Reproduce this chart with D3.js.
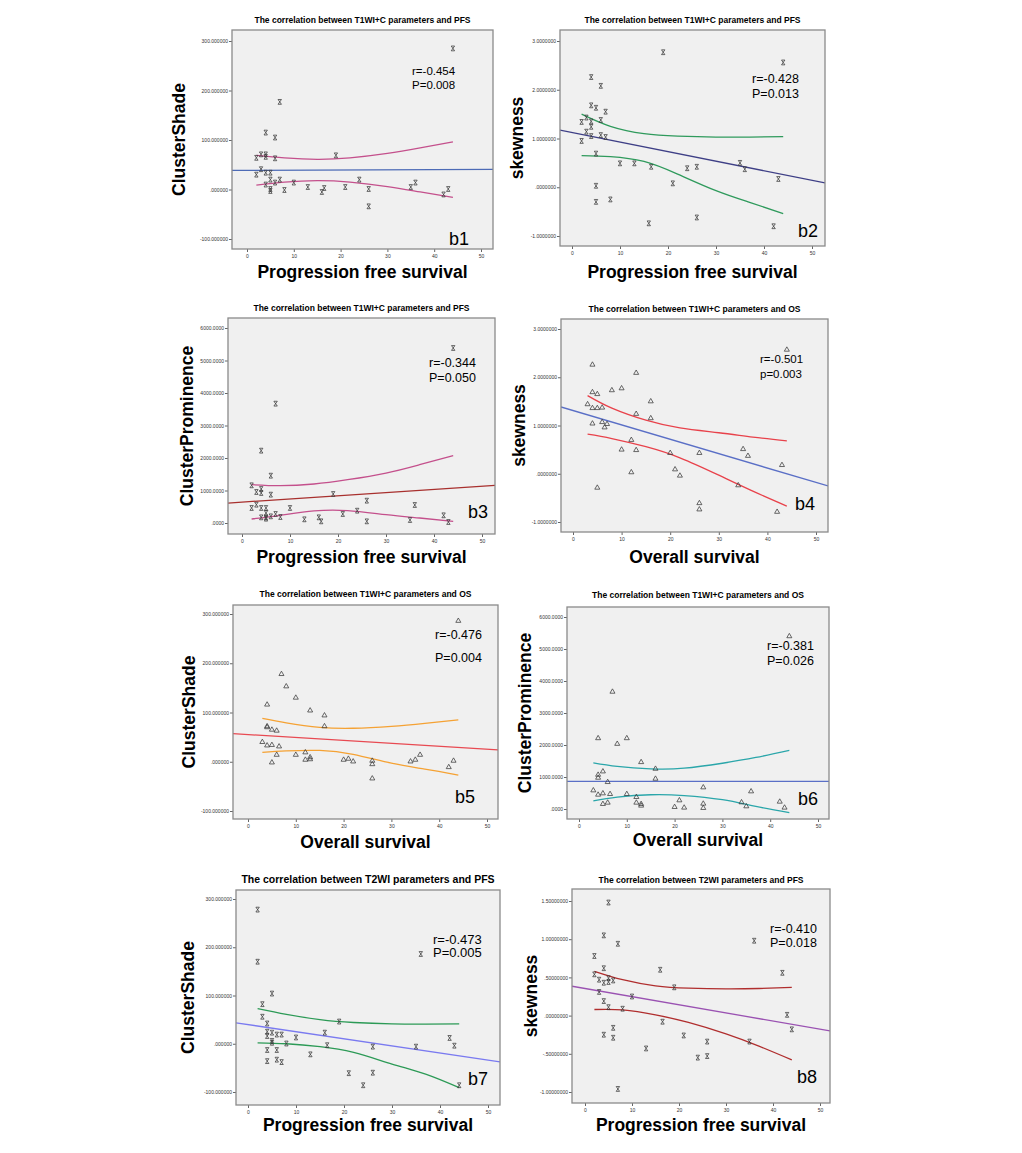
<!DOCTYPE html>
<html>
<head>
<meta charset="utf-8">
<script src="https://cdn.jsdelivr.net/npm/d3@7"></script>
<style>
  body { margin: 0; background: #fff; }
  text { font-family: Arial, "Liberation Sans", sans-serif; }
</style>
</head>
<body>
<svg id="chart"></svg>
<script>
// values
var pfsX = [2,2,3,3,4,4,4,4,4,5,5,5,5,6,6,6,7,7,8,10,13,16,16.5,19,21,24,26,26,35,36,42,43,44];
var b2X  = [2,2,3,3,4,4,4,4,4,5,5,5,5,6,6,6,7,7,8,10,13,16,16.5,19,21,24,26,26,35,36,43,42,44];
var osX  = [3,4,4,4,4,5,5,5,6,6,6.5,7,8,10,10,12,12,13,13,13,16,16,20,21,22,26,26,26,34,35,36,42,43,44];
var b4X  = [3,4,4,4,4,5,5,5,6,6,6.5,7,8,10,10,12,12,13,13,13,16,16,20,21,22,26,26,26,34,35,36,43,42,44];

var b1Y = [64,30,41,71,71,66,115,34,10,34,20,1,-3,105,63,14,177,20,-1,14,5,-5,3,69,5,20,1,-34,5,14,-10,1,285];
var b2Y = [1.34,0.95,1.43,1.14,2.26,1.68,1.35,1.24,1.05,1.63,0.69,0.03,-0.30,2.08,1.38,1.07,1.55,1.03,-0.25,0.49,0.49,-0.74,0.42,2.77,0.08,0.39,0.42,-0.62,0.50,0.37,0.17,-0.80,2.56];
var b3Y = [462,1159,564,954,2226,1046,923,462,174,462,308,174,133,1456,872,205,3672,277,185,462,113,174,51,892,277,379,687,51,92,554,236,31,5385];
var b4Y = [1.44,2.26,1.69,1.36,1.04,1.65,1.36,-0.29,1.37,1.07,0.96,1.03,1.73,1.77,0.50,0.70,0.03,2.09,1.24,0.49,1.50,1.15,0.43,0.09,-0.04,0.43,-0.61,-0.74,-0.24,0.51,0.37,0.18,-0.79,2.57];
var b5Y = [40,116,72,70,33,65,34,-1.5,63,14,31,178,153,130,14,19,4,104,9,5,94,72,4,6,0.5,2,-5,-34,0.5,4,14,-11,2,286];
var b6Y = [581,446,2211,1069,976,1173,488,156,841,197,467,3664,2035,2211,467,374,197,1464,156,104,1256,945,62,270,42,675,166,31,208,83,550,228,42,5398];
var b7Y = [278,170,82,56,42,25,16,-13,-36,104,23,6,2,19,-13,-33,19,-38,0.5,13,-22,23,-3,46,-61,-86,-6,-60,-6,186,12,-4,-86];
var b8Y = [0.78,0.54,0.47,0.31,1.05,0.62,0.43,0.19,-0.25,1.48,0.49,0.44,0.11,0.46,-0.16,-0.29,0.94,-0.96,0.09,0.25,-0.43,0.60,-0.08,0.37,-0.26,-0.55,-0.34,-0.53,-0.34,0.98,0.56,0.01,-0.18];

// fitted line [intercept, slope]
var b1Fit = [38.7, 0.04], b2Fit = [1.123, -0.0196], b3Fit = [642, 9.78], b4Fit = [1.31, -0.0298];
var b5Fit = [55.2, -0.596], b6Fit = [862, 0.05], b7Fit = [39.7, -1.469], b8Fit = [0.355, -0.01066];

// confidence band, read at a few x positions
var pfsBandX = [2,8,15,22,30,37,44];
var osBandX  = [3,8,15,22,30,37,44];
var b1Up = [69,64,61,64,73,84,96],           b1Lo = [9,15,18,15,6,-5,-16];
var b2Up = [1.50,1.25,1.10,1.05,1.03,1.03,1.04], b2Lo = [0.65,0.63,0.53,0.27,-0.07,-0.31,-0.54];
var b3Up = [1179,1149,1200,1333,1538,1795,2072], b3Lo = [123,236,370,380,256,154,51];
var b4Up = [1.62,1.36,1.11,0.95,0.85,0.76,0.68], b4Lo = [0.82,0.73,0.56,0.33,-0.03,-0.36,-0.67];
var b5Up = [88,79,70,68,72,78,85],           b5Lo = [19,22,23,15,-3,-15,-27];
var b6Up = [1440,1330,1255,1275,1430,1610,1830], b6Lo = [255,370,445,420,290,80,-110];
var b7Up = [73,61,50,44,41,40.5,41],         b7Lo = [2,0,-6,-18,-42,-63,-91];
var b8Up = [0.58,0.47,0.39,0.36,0.35,0.355,0.37], b8Lo = [0.08,0.075,0.01,-0.09,-0.24,-0.40,-0.58];

var xTicks = [0,10,20,30,40,50];
var shadeTicks = [300,200,100,0,-100];
var shadeLabels = ["300.000000","200.000000","100.000000",".000000","-100.000000"];
var skewTicks = [3,2,1,0,-1];
var skewLabels = ["3.0000000","2.0000000","1.0000000",".0000000","-1.0000000"];
var promTicks = [6000,5000,4000,3000,2000,1000,0];
var promLabels = ["6000.0000","5000.0000","4000.0000","3000.0000","2000.0000","1000.0000",".0000"];
var skew2Ticks = [1.5,1,0.5,0,-0.5,-1];
var skew2Labels = ["1.50000000","1.00000000",".50000000",".00000000","-.50000000","-1.00000000"];

var titles = ["The correlation between T1WI+C parameters and PFS",
              "The correlation between T1WI+C parameters and OS",
              "The correlation between T2WI parameters and PFS"];
var statR = ["r=-0.454","r=-0.428","r=-0.344","r=-0.501","r=-0.476","r=-0.381","r=-0.473","r=-0.410"];
var statP = ["P=0.008","P=0.013","P=0.050","p=0.003","P=0.004","P=0.026","P=0.005","P=0.018"];
var panelNames = ["b1","b2","b3","b4","b5","b6","b7","b8"];

var svg = d3.select("#chart").attr("width", 1022).attr("height", 1153);

// box: frame [l,t,r,b]; xa: pixel of x=0 and x=50; ya: pixel of first and last y tick
var panels = [
  {xs:pfsX, ys:b1Y, fit:b1Fit, bx:pfsBandX, up:b1Up, lo:b1Lo, yt:shadeTicks, yl:shadeLabels, mark:"hour",
   title:titles[0], tfs:8.5, ylab:"ClusterShade", xlab:"Progression free survival",
   line:"#4d6bb6", band:"#c4508c", box:[232,30,493,249], xa:[247,481], ya:[41,239],
   st:[81,45,14], sfs:11.5, lab:[44,4], ylx:47, xly:29, tty:7},
  {xs:b2X, ys:b2Y, fit:b2Fit, bx:pfsBandX, up:b2Up, lo:b2Lo, yt:skewTicks, yl:skewLabels, mark:"hour",
   title:titles[0], tfs:8.5, ylab:"skewness", xlab:"Progression free survival",
   line:"#3e3f86", band:"#2f9a5c", box:[560,30,825,246], xa:[572,812], ya:[41,236],
   st:[73,53,15], sfs:12.5, lab:[27,9], ylx:37, xly:32, tty:7},
  {xs:pfsX, ys:b3Y, fit:b3Fit, bx:pfsBandX, up:b3Up, lo:b3Lo, yt:promTicks, yl:promLabels, mark:"hour",
   title:titles[0], tfs:8.5, ylab:"ClusterProminence", xlab:"Progression free survival",
   line:"#a8302e", band:"#c4508c", box:[228,318,495,534], xa:[242,482], ya:[328,523],
   st:[66,49,15], sfs:12.5, lab:[27,16], ylx:35, xly:29, tty:7},
  {xs:b4X, ys:b4Y, fit:b4Fit, bx:osBandX, up:b4Up, lo:b4Lo, yt:skewTicks, yl:skewLabels, mark:"tri",
   title:titles[1], tfs:8.5, ylab:"skewness", xlab:"Overall survival",
   line:"#5a6fc6", band:"#e8424b", box:[561,319,828,532], xa:[573,816], ya:[329,522],
   st:[68,44,15], sfs:11.5, lab:[33,22], ylx:36, xly:31, tty:7},
  {xs:osX, ys:b5Y, fit:b5Fit, bx:osBandX, up:b5Up, lo:b5Lo, yt:shadeTicks, yl:shadeLabels, mark:"tri",
   title:titles[1], tfs:8.5, ylab:"ClusterShade", xlab:"Overall survival",
   line:"#e84a52", band:"#f5a234", box:[233,605,498,819], xa:[248,487], ya:[614,811],
   st:[63,34,23], sfs:12.5, lab:[43,16], ylx:38, xly:29, tty:8},
  {xs:osX, ys:b6Y, fit:b6Fit, bx:osBandX, up:b6Up, lo:b6Lo, yt:promTicks, yl:promLabels, mark:"tri",
   title:titles[1], tfs:8.5, ylab:"ClusterProminence", xlab:"Overall survival",
   line:"#5a6fc6", band:"#2aa6aa", box:[567,607,829,819], xa:[579,818], ya:[617,809],
   st:[62,43,15], sfs:12.5, lab:[31,14], ylx:36, xly:27, tty:9},
  {xs:pfsX, ys:b7Y, fit:b7Fit, bx:pfsBandX, up:b7Up, lo:b7Lo, yt:shadeTicks, yl:shadeLabels, mark:"hour",
   title:titles[2], tfs:10.5, ylab:"ClusterShade", xlab:"Progression free survival",
   line:"#7a7af0", band:"#2c9a56", box:[236,890,500,1105], xa:[248,488], ya:[899,1092],
   st:[67,54,13], sfs:13, lab:[32,20], ylx:42, xly:26, tty:7},
  {xs:pfsX, ys:b8Y, fit:b8Fit, bx:pfsBandX, up:b8Up, lo:b8Lo, yt:skew2Ticks, yl:skew2Labels, mark:"hour",
   title:titles[2], tfs:8.5, ylab:"skewness", xlab:"Progression free survival",
   line:"#9a52b2", band:"#b02e2e", box:[572,889,830,1103], xa:[585,820], ya:[901,1092],
   st:[60,44,14], sfs:12.5, lab:[33,20], ylx:35, xly:28, tty:6}
];

var hourglass = "M-1.7,-2.4H1.7L-1.7,2.4H1.7Z";
var triangle = d3.symbol(d3.symbolTriangle, 11)();

panels.forEach(function(p, i) {
  var L = p.box[0], T = p.box[1], R = p.box[2], B = p.box[3];
  var yt = p.yt;
  var x = d3.scaleLinear().domain([0, 50]).range(p.xa);
  var y = d3.scaleLinear().domain([yt[0], yt[yt.length - 1]]).range(p.ya);

  var g = svg.append("g");

  g.append("clipPath").attr("id", "clip" + i)
    .append("rect").attr("x", L).attr("y", T).attr("width", R - L).attr("height", B - T);

  g.append("rect")
    .attr("x", L).attr("y", T).attr("width", R - L).attr("height", B - T)
    .attr("fill", "#f0f0f0");

  // y axis
  var yAxis = d3.axisLeft(y).tickValues(yt).tickSize(3).tickPadding(1)
    .tickFormat(function(d, k) { return p.yl[k]; });
  var ya = g.append("g").attr("transform", "translate(" + L + ",0)").call(yAxis);
  ya.select(".domain").remove();
  ya.selectAll("line").attr("stroke", "#666");
  ya.selectAll("text").style("font-size", "5px").attr("fill", "#333");

  // x axis
  var xAxis = d3.axisBottom(x).tickValues(xTicks).tickSize(3).tickPadding(2);
  var xa = g.append("g").attr("transform", "translate(0," + B + ")").call(xAxis);
  xa.select(".domain").remove();
  xa.selectAll("line").attr("stroke", "#666");
  xa.selectAll("text").style("font-size", "5px").attr("fill", "#333");

  var plot = g.append("g").attr("clip-path", "url(#clip" + i + ")");

  // regression line across the whole frame
  var x0 = x.invert(L), x1 = x.invert(R);
  plot.append("line")
    .attr("x1", L).attr("x2", R)
    .attr("y1", y(p.fit[0] + p.fit[1] * x0))
    .attr("y2", y(p.fit[0] + p.fit[1] * x1))
    .attr("stroke", p.line).attr("stroke-width", 1.3);

  var band = d3.line()
    .x(function(d) { return x(d[0]); })
    .y(function(d) { return y(d[1]); })
    .curve(d3.curveNatural);

  [p.up, p.lo].forEach(function(arr) {
    plot.append("path")
      .datum(p.bx.map(function(v, k) { return [v, arr[k]]; }))
      .attr("d", band)
      .attr("fill", "none")
      .attr("stroke", p.band)
      .attr("stroke-width", 1.3);
  });

  plot.selectAll(".pt")
    .data(p.xs.map(function(v, k) { return [v, p.ys[k]]; }))
    .enter().append("path")
    .attr("class", "pt")
    .attr("transform", function(d) { return "translate(" + x(d[0]) + "," + y(d[1]) + ")"; })
    .attr("d", p.mark == "tri" ? triangle : hourglass)
    .attr("fill", "none")
    .attr("stroke", "#3a3a3a")
    .attr("stroke-width", 0.75);

  g.append("rect")
    .attr("x", L).attr("y", T).attr("width", R - L).attr("height", B - T)
    .attr("fill", "none").attr("stroke", "#8a8a8a").attr("stroke-width", 1.3);

  g.append("text")
    .attr("x", (L + R) / 2).attr("y", T - p.tty)
    .attr("text-anchor", "middle")
    .style("font-size", p.tfs + "px").style("font-weight", "bold")
    .text(p.title);

  g.append("text")
    .attr("transform", "translate(" + (L - p.ylx) + "," + ((T + B) / 2) + ") rotate(-90)")
    .attr("text-anchor", "middle")
    .style("font-size", "17.5px").style("font-weight", "bold")
    .text(p.ylab);

  g.append("text")
    .attr("x", (L + R) / 2).attr("y", B + p.xly)
    .attr("text-anchor", "middle")
    .style("font-size", "17.5px").style("font-weight", "bold")
    .text(p.xlab);

  g.append("text")
    .attr("x", R - p.st[0]).attr("y", T + p.st[1])
    .style("font-size", p.sfs + "px")
    .text(statR[i]);
  g.append("text")
    .attr("x", R - p.st[0]).attr("y", T + p.st[1] + p.st[2])
    .style("font-size", p.sfs + "px")
    .text(statP[i]);

  g.append("text")
    .attr("x", R - p.lab[0]).attr("y", B - p.lab[1])
    .style("font-size", "18px")
    .text(panelNames[i]);
});
</script>
</body>
</html>
